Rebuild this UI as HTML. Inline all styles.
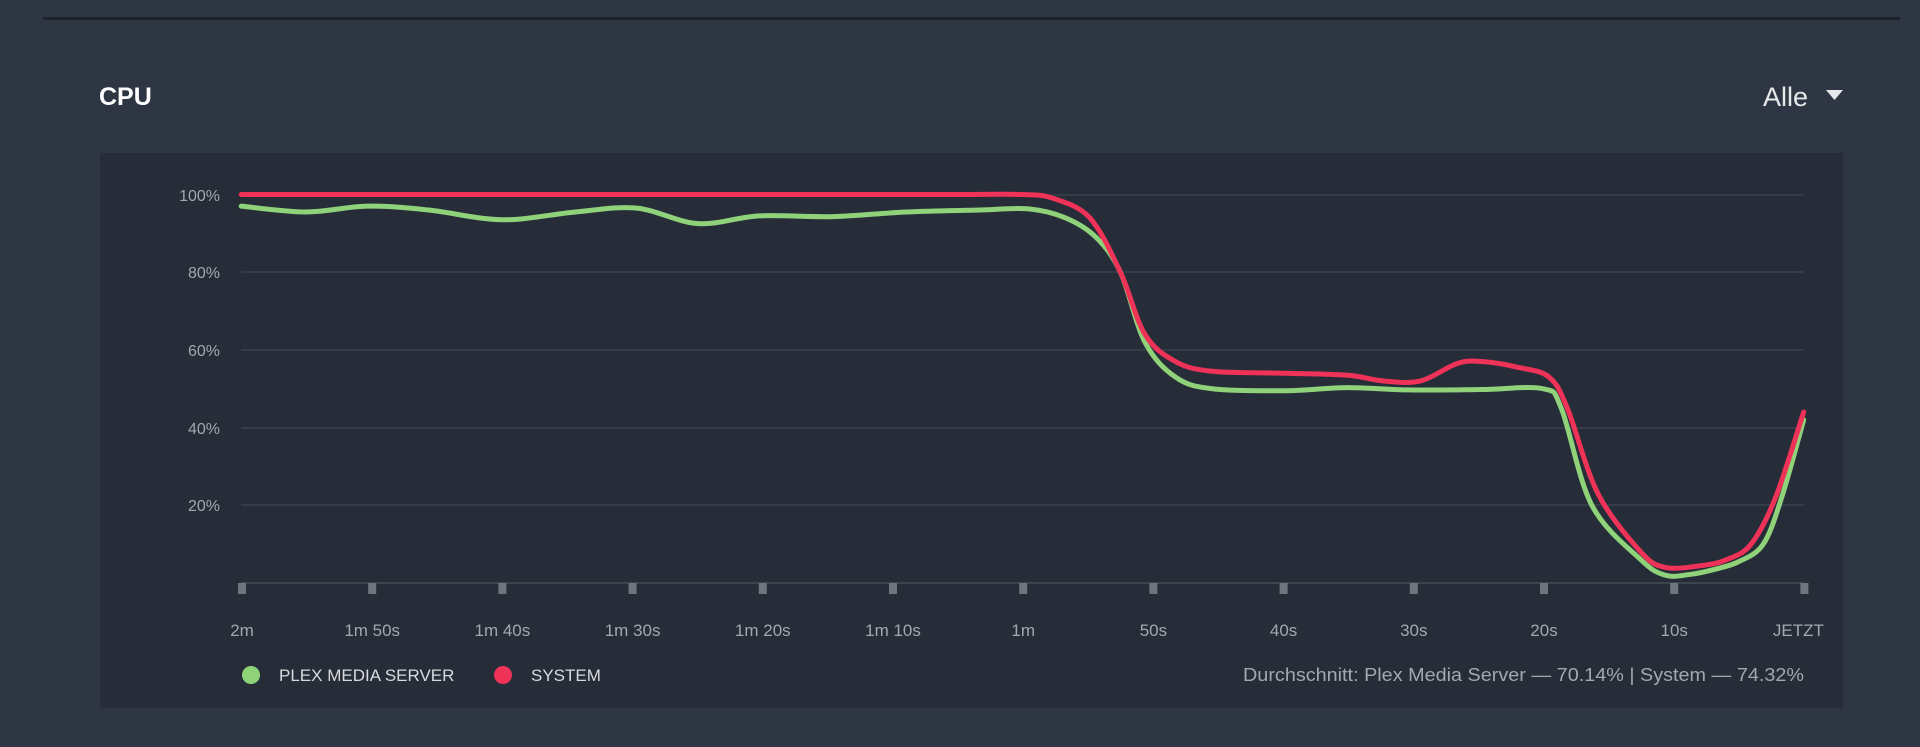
<!DOCTYPE html>
<html><head><meta charset="utf-8">
<style>
html,body{margin:0;padding:0;background:#2d3642;width:1920px;height:747px;overflow:hidden;font-family:"Liberation Sans",sans-serif;}
</style></head>
<body>
<svg id="s" width="1920" height="747" xmlns="http://www.w3.org/2000/svg">
<rect x="0" y="0" width="1920" height="747" fill="#2d3642"/>
<rect x="43" y="17" width="1857" height="3" fill="#1d232b"/>
<text x="99" y="105" fill="#ffffff" font-size="25" font-weight="bold">CPU</text>
<text x="1808" y="106" fill="#e6e8ea" font-size="27" text-anchor="end">Alle</text>
<polygon points="1826,90 1843,90 1834.5,100" fill="#e6e8ea"/>
<rect x="100" y="153" width="1743" height="555" fill="#262d38"/>
<g stroke="#3d4550" stroke-width="1.2">
<line x1="241" x2="1804" y1="195" y2="195"/>
<line x1="241" x2="1804" y1="272" y2="272"/>
<line x1="241" x2="1804" y1="350" y2="350"/>
<line x1="241" x2="1804" y1="428" y2="428"/>
<line x1="241" x2="1804" y1="505" y2="505"/>
<line x1="241" x2="1804" y1="583" y2="583" stroke="#4a525c"/>
</g>
<g fill="#a3a8ae" font-size="16" text-anchor="end">
<text x="220" y="201">100%</text>
<text x="220" y="278">80%</text>
<text x="220" y="356">60%</text>
<text x="220" y="434">40%</text>
<text x="220" y="511">20%</text>
</g>
<g id="ticks" fill="#6f757c"></g>
<g id="xl" fill="#a3a8ae" font-size="17" text-anchor="middle"></g>
<path id="g" fill="none" stroke="#8fd27a" stroke-width="5" stroke-linejoin="round" stroke-linecap="round"/>
<path id="r" fill="none" stroke="#ee3258" stroke-width="5" stroke-linejoin="round" stroke-linecap="round"/>
<circle cx="251" cy="675" r="9" fill="#8fd27a"/>
<text x="279" y="681" fill="#d8dadd" font-size="17">PLEX MEDIA SERVER</text>
<circle cx="503" cy="675" r="9" fill="#ee3258"/>
<text x="531" y="681" fill="#d8dadd" font-size="17">SYSTEM</text>
<text x="1243" y="681" fill="#a3a8ae" font-size="18" textLength="561" lengthAdjust="spacingAndGlyphs">Durchschnitt: Plex Media Server — 70.14% | System — 74.32%</text>
</svg>
<script>
var NS="http://www.w3.org/2000/svg";
var labels=["2m","1m 50s","1m 40s","1m 30s","1m 20s","1m 10s","1m","50s","40s","30s","20s","10s","JETZT"];
var t=document.getElementById("ticks"),xl=document.getElementById("xl");
for(var i=0;i<13;i++){var x=242+i*130.2;
var r=document.createElementNS(NS,"rect");r.setAttribute("x",x-4);r.setAttribute("y",583);r.setAttribute("width",8);r.setAttribute("height",11);t.appendChild(r);
var tx=document.createElementNS(NS,"text");tx.setAttribute("x",i==12?x-6:x);tx.setAttribute("y",636);tx.textContent=labels[i];xl.appendChild(tx);}
function path(d){var p=d.map(function(a){return [a[0]*1.2245,583-a[1]*3.885];});
var s="M"+p[0][0]+","+p[0][1];
for(var i=0;i<p.length-1;i++){var p0=p[i-1]||p[i],p1=p[i],p2=p[i+1],p3=p[i+2]||p2;
var c1=[p1[0]+(p2[0]-p0[0])/6,p1[1]+(p2[1]-p0[1])/6],c2=[p2[0]-(p3[0]-p1[0])/6,p2[1]-(p3[1]-p1[1])/6];
s+=" C"+c1+" "+c2+" "+p2;}return s;}
var G=[[197,97],[250,95.5],[300,97],[350,96],[410,93.5],[470,95.5],[520,96.5],[570,92.5],[620,94.5],[680,94.3],[740,95.5],[800,96],[840,96.3],[870,94],[895,89],[915,80],[935,62],[960,53],[990,50],[1050,49.5],[1100,50.3],[1150,49.7],[1210,49.8],[1260,50],[1275,45],[1300,20],[1340,6],[1360,2],[1380,2.2],[1400,3.5],[1420,5.5],[1440,10],[1455,22],[1473,42]];
var R=[[197,100],[300,100],[400,100],[500,100],[600,100],[700,100],[780,100],[835,100],[860,99],[890,94],[915,80],[935,64],[960,57],[990,54.5],[1050,54],[1100,53.5],[1130,52],[1160,52],[1190,56.5],[1210,57],[1240,55.5],[1265,53],[1280,45],[1305,23],[1340,8],[1360,4],[1390,4.5],[1410,6],[1430,10],[1450,22],[1473,44]];
document.getElementById("g").setAttribute("d",path(G));
document.getElementById("r").setAttribute("d",path(R));
</script>
</body></html>
